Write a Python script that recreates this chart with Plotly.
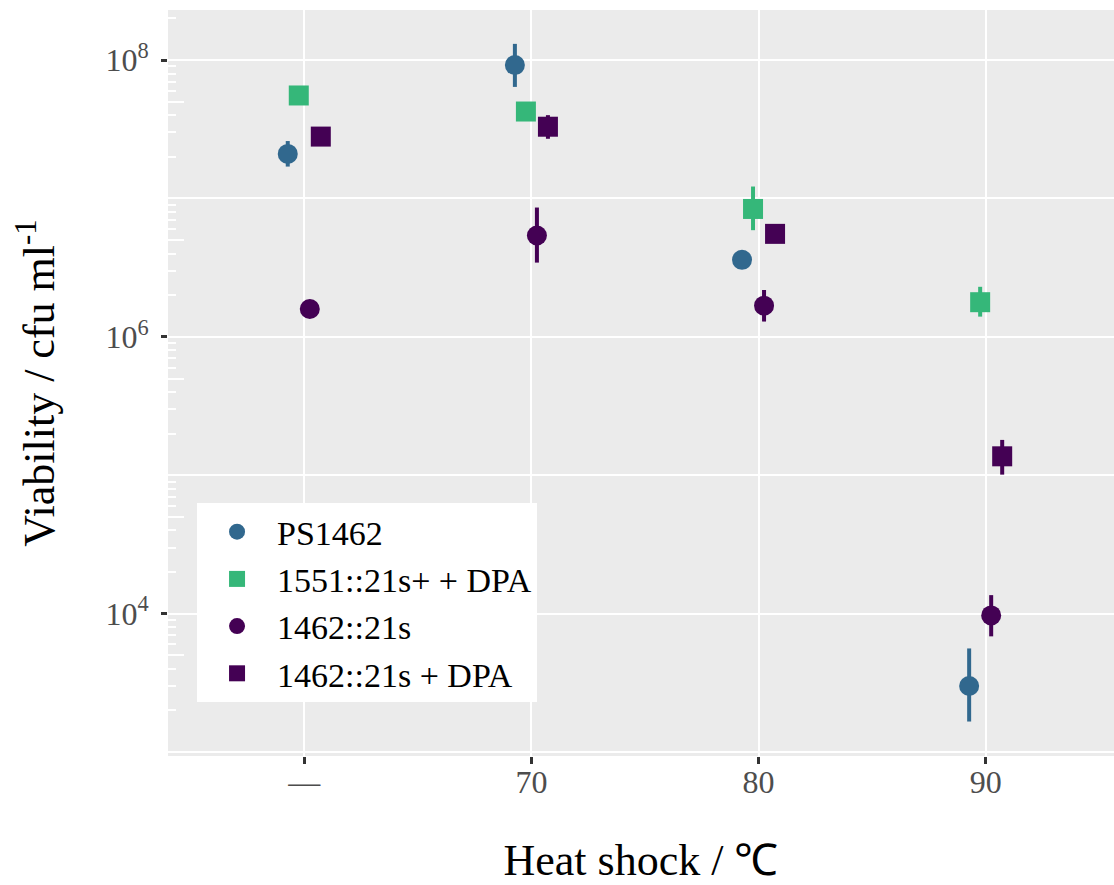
import plotly.graph_objects as go

categories = ["—", "70", "80", "90"]
series_names = ["PS1462", "1551::21s+ + DPA", "1462::21s", "1462::21s + DPA"]

ps1462_mean = [2.1e7, 9.2e7, 3.6e6, 3.0e3]
ps1462_lo = [1.7e7, 6.4e7, 3.5e6, 1.66e3]
ps1462_hi = [2.6e7, 1.31e8, 3.7e6, 5.6e3]

s1551_mean = [5.55e7, 4.25e7, 8.4e6, 1.78e6]
s1551_lo = [5.4e7, 4.15e7, 5.9e6, 1.4e6]
s1551_hi = [5.7e7, 4.35e7, 1.22e7, 2.3e6]

s1462_mean = [1.59e6, 5.4e6, 1.68e6, 9.7e3]
s1462_lo = [1.55e6, 3.44e6, 1.29e6, 6.85e3]
s1462_hi = [1.63e6, 8.6e6, 2.18e6, 1.36e4]

s1462dpa_mean = [2.8e7, 3.3e7, 5.55e6, 1.37e5]
s1462dpa_lo = [2.75e7, 2.7e7, 5.45e6, 1.01e5]
s1462dpa_hi = [2.85e7, 4.0e7, 5.65e6, 1.8e5]

means = [ps1462_mean, s1551_mean, s1462_mean, s1462dpa_mean]
lows = [ps1462_lo, s1551_lo, s1462_lo, s1462dpa_lo]
highs = [ps1462_hi, s1551_hi, s1462_hi, s1462dpa_hi]
colors = ["#31688E", "#35B779", "#440154", "#440154"]
symbols = ["circle", "square", "circle", "square"]

FONT = "Liberation Serif"

fig = go.Figure()
for name, m, lo, hi, c, s in zip(series_names, means, lows, highs, colors, symbols):
    fig.add_trace(go.Scatter(
        x=categories, y=m, name=name, mode="markers",
        marker=dict(color=c, symbol=s, size=20, line=dict(width=0)),
        error_y=dict(type="data", symmetric=False,
                     array=[h - v for h, v in zip(hi, m)],
                     arrayminus=[v - l for v, l in zip(m, lo)],
                     color=c, thickness=4, width=0),
        offsetgroup=name,
    ))

# dummy trace for the overlay axis that carries labels
fig.add_trace(go.Scatter(x=[categories[0]], y=[None], yaxis="y2", showlegend=False,
                         hoverinfo="skip", mode="markers"))

decades = [10 ** k for k in range(3, 9)]
minor_vals = [m * 10 ** k for k in range(2, 9) for m in range(2, 10)]
mid_vals = [5 * 10 ** k for k in range(2, 9)]
yrange = [2.971, 8.362]

fig.update_layout(
    width=1114, height=885,
    paper_bgcolor="white", plot_bgcolor="#EBEBEB",
    margin=dict(l=168, r=0, t=10, b=129),
    scattermode="group", scattergap=0.806,
    font=dict(family=FONT, color="black"),
    xaxis=dict(
        type="category", categoryorder="array", categoryarray=categories,
        range=[-0.6, 3.565], automargin=False,
        showgrid=True, gridcolor="white", gridwidth=2,
        ticks="outside", ticklen=7, tickwidth=2.5, tickcolor="#333333",
        ticklabelstandoff=-9,
        tickfont=dict(family=FONT, size=32, color="#4D4D4D"),
        title=dict(text="Heat shock / ℃", font=dict(family=FONT, size=44, color="black"),
                   standoff=50),
        zeroline=False, showline=False,
    ),
    yaxis=dict(
        type="log", range=yrange, automargin=False,
        tickmode="array", tickvals=decades,
        showticklabels=False,
        showgrid=True, gridcolor="white", gridwidth=2,
        ticks="inside", ticklen=23, tickwidth=1.5, tickcolor="white",
        minor=dict(tickmode="array", tickvals=minor_vals, ticks="inside", ticklen=8,
                   tickwidth=1.5, tickcolor="white", showgrid=False),
        zeroline=False, showline=False,
    ),
    yaxis2=dict(
        type="log", range=yrange, overlaying="y", side="left", automargin=False,
        tickmode="array", tickvals=[1e4, 1e6, 1e8],
        ticktext=["10<sup>4</sup>", "10<sup>6</sup>", "10<sup>8</sup>"],
        tickfont=dict(family=FONT, size=32, color="#4D4D4D"),
        ticks="outside", ticklen=6, tickwidth=2.5, tickcolor="#333333",
        ticklabelstandoff=6,
        showgrid=False, zeroline=False, showline=False,
        minor=dict(tickmode="array", tickvals=mid_vals, ticks="inside", ticklen=16,
                   tickwidth=1.5, tickcolor="white", showgrid=False),
        title=dict(text="Viability / cfu ml<sup>-1</sup>",
                   font=dict(family=FONT, size=44, color="black"), standoff=36),
    ),
    legend=dict(
        x=0.0307, y=0.339, xanchor="left", yanchor="top",
        bgcolor="white", borderwidth=0,
        font=dict(family=FONT, size=34, color="black"),
        itemwidth=70, tracegroupgap=2,
    ),
    showlegend=True,
)

fig.write_html("out.html", config={"displayModeBar": False},
               post_script="document.body.style.margin='0';document.body.style.overflow='hidden';")
